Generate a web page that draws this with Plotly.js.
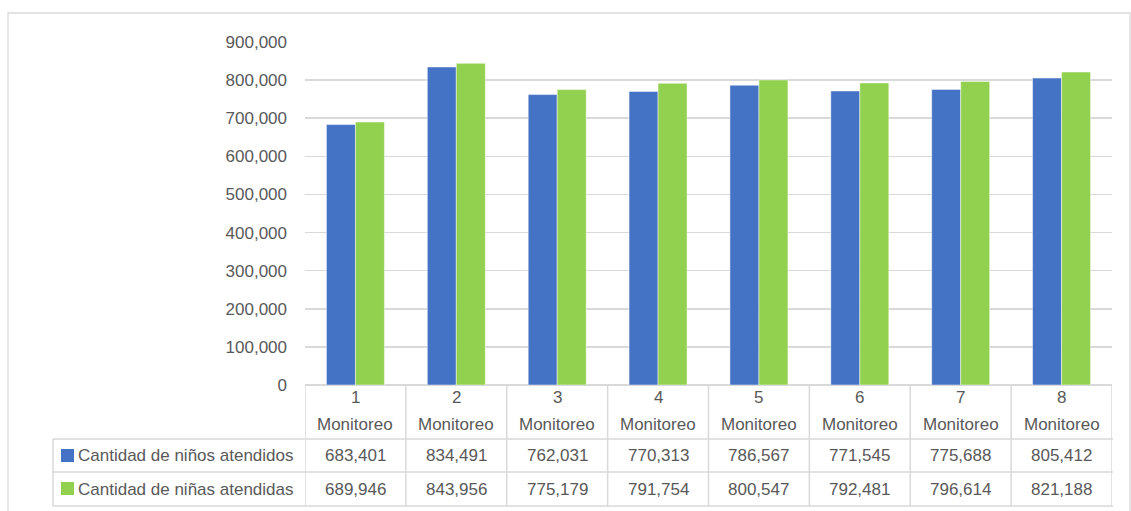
<!DOCTYPE html>
<html>
<head>
<meta charset="utf-8">
<script src="https://cdn.plot.ly/plotly-3.0.1.min.js"></script>
<style>
html,body{margin:0;padding:0;background:#fff;}
#chart{width:1131px;height:511px;}
</style>
</head>
<body>
<div id="chart"></div>
<script>
const categories = ["1", "2", "3", "4", "5", "6", "7", "8"];
const categoryLabel = "Monitoreo";
const seriesNames = ["Cantidad de niños atendidos", "Cantidad de niñas atendidas"];
const ninos = [683401, 834491, 762031, 770313, 786567, 771545, 775688, 805412];
const ninas = [689946, 843956, 775179, 791754, 800547, 792481, 796614, 821188];
const colors = ["#4472C4", "#92D050"];
const yTicks = [0, 100000, 200000, 300000, 400000, 500000, 600000, 700000, 800000, 900000];

const fmt = v => v.toLocaleString('en-US');
const FONT = '"Liberation Sans", Arial, sans-serif';
const TXT = '#595959';
const LINE = '#d9d9d9';

// plot area geometry in px (for converting table rows to paper coords)
const W = 1131, H = 511, L = 305, R = 19, T = 42, B = 126;
const pw = W - L - R, ph = H - T - B;
const py = p => (H - B - p) / ph;      // pixel y -> paper y
const px = p => (p - L) / pw;          // pixel x -> paper x

const xs = categories.map((c, i) => i);

const traces = [ninos, ninas].map((vals, k) => ({
  type: 'bar',
  x: xs,
  y: vals,
  name: seriesNames[k],
  marker: {color: colors[k], line: {color: 'rgba(255,255,255,0.6)', width: 0.8}},
  hoverinfo: 'y'
}));

const rowHeader = 439, row1 = 472, row2 = 506, tableLeft = 53;
const n = categories.length;
const shapes = [];
// outer frame
shapes.push({type: 'rect', xref: 'paper', yref: 'paper', x0: px(8), x1: px(1130), y0: py(13), y1: py(530), line: {color: LINE, width: 1.3}, layer: 'below'});
// table horizontal lines
[rowHeader, row1, row2].forEach(r => {
  shapes.push({type: 'line', xref: 'paper', yref: 'paper', x0: px(tableLeft), x1: 1 + 1 / pw, y0: py(r), y1: py(r), line: {color: LINE, width: 1.5}});
});
// left legend cell border
shapes.push({type: 'line', xref: 'paper', yref: 'paper', x0: px(tableLeft), x1: px(tableLeft), y0: py(rowHeader), y1: py(row2), line: {color: LINE, width: 1.5}});
// column separators
for (let i = 0; i <= n; i++) {
  shapes.push({type: 'line', xref: 'x', yref: 'paper', x0: i - 0.5, x1: i - 0.5, y0: 0, y1: py(row2), line: {color: LINE, width: 1.5}});
}
// legend keys
[[449, 462], [482, 495]].forEach((r, k) => {
  shapes.push({type: 'rect', xref: 'paper', yref: 'paper', x0: px(61), x1: px(74), y0: py(r[1]), y1: py(r[0]), fillcolor: colors[k], line: {width: 0}});
});

const annotations = [];
const tf = {family: FONT, size: 17, color: TXT};
categories.forEach((c, i) => {
  annotations.push({xref: 'x', yref: 'paper', x: i, y: py(397), text: c, showarrow: false, font: tf, xanchor: 'center', yanchor: 'middle'});
  annotations.push({xref: 'x', yref: 'paper', x: i, y: py(424), text: categoryLabel, showarrow: false, font: tf, xanchor: 'center', yanchor: 'middle'});
  annotations.push({xref: 'x', yref: 'paper', x: i, y: py(456), text: fmt(ninos[i]), showarrow: false, font: tf, xanchor: 'center', yanchor: 'middle'});
  annotations.push({xref: 'x', yref: 'paper', x: i, y: py(489), text: fmt(ninas[i]), showarrow: false, font: tf, xanchor: 'center', yanchor: 'middle'});
});
annotations.push({xref: 'paper', yref: 'paper', x: px(76), y: py(456), text: seriesNames[0], showarrow: false, font: tf, xanchor: 'left', yanchor: 'middle'});
annotations.push({xref: 'paper', yref: 'paper', x: px(76), y: py(489), text: seriesNames[1], showarrow: false, font: tf, xanchor: 'left', yanchor: 'middle'});

const layout = {
  width: W, height: H,
  margin: {l: L, r: R, t: T, b: B, pad: 0},
  paper_bgcolor: '#fff', plot_bgcolor: '#fff',
  showlegend: false,
  barmode: 'group',
  bargap: 0.425,
  bargroupgap: 0,
  font: {family: FONT, size: 17, color: TXT},
  xaxis: {
    range: [-0.5, n - 0.5],
    showticklabels: false, showgrid: false, zeroline: false,
    showline: false, ticks: '', fixedrange: true
  },
  yaxis: {
    range: [0, 900000],
    tickvals: yTicks,
    ticktext: yTicks.map(fmt),
    showgrid: true, gridcolor: LINE, gridwidth: 1.5,
    zeroline: true, zerolinecolor: LINE, zerolinewidth: 1.5,
    showline: false, ticks: '', ticklabelstandoff: 17,
    tickfont: {family: FONT, size: 17, color: TXT},
    fixedrange: true
  },
  shapes: shapes,
  annotations: annotations
};

Plotly.newPlot('chart', traces, layout, {displayModeBar: false, staticPlot: true});
</script>
</body>
</html>
